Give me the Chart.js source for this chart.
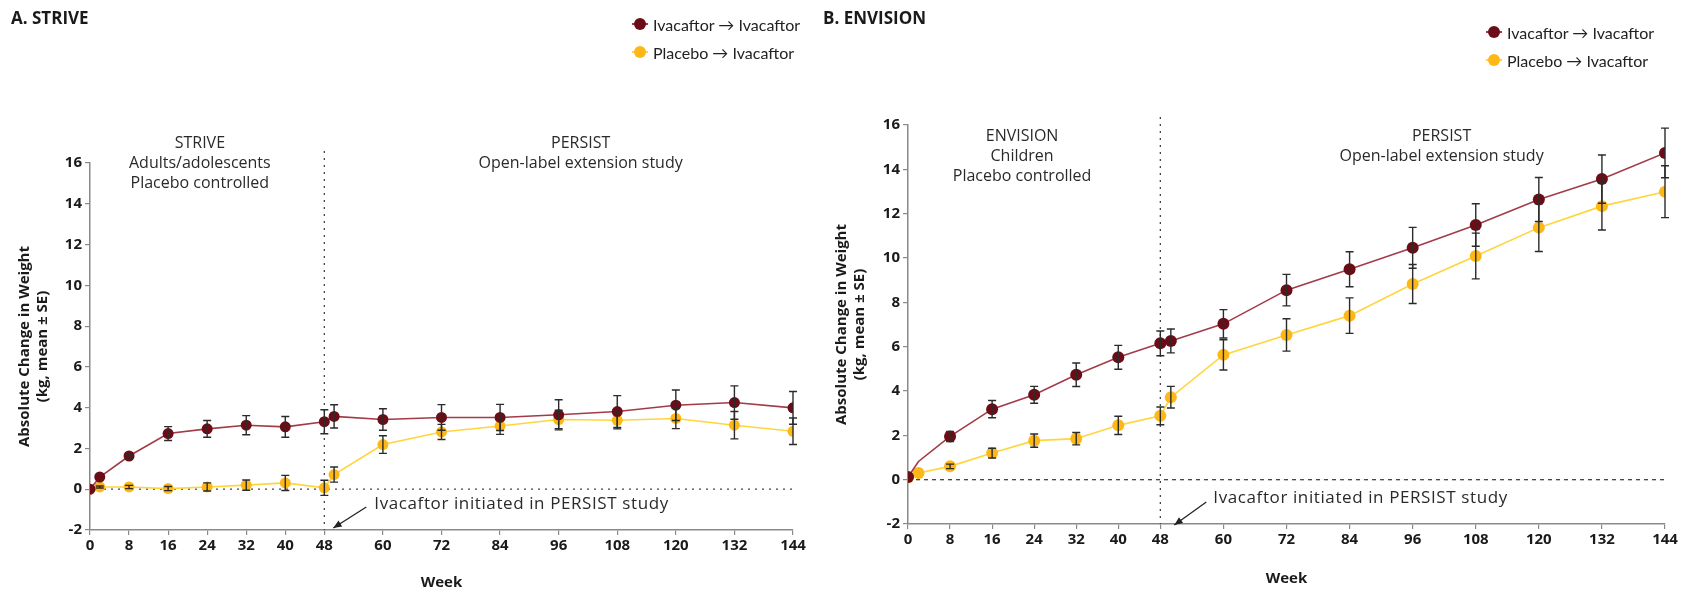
<!DOCTYPE html>
<html lang="en">
<head>
<meta charset="UTF-8">
<title>Absolute Change in Weight - STRIVE / ENVISION / PERSIST</title>
<script src="https://cdn.jsdelivr.net/npm/chart.js"></script>
<style>
    body {
        margin: 0;
        width: 1691px;
        height: 593px;
        background: #fff;
        position: relative;
        overflow: hidden;
        font-family: "Open Sans", Lato, Arial, sans-serif;
    }
    .panel { position: absolute; top: 0; height: 593px; }
    #panelA { left: 0; width: 820px; }
    #panelB { left: 820px; width: 871px; }
    .tag { position: absolute; font-weight: bold; font-size: 17px; color: #1a1a1a; }
    .legend { position: absolute; font-size: 16px; color: #222; font-family: Lato, "Open Sans", Arial, sans-serif; }
    .legend .item { height: 28px; display: flex; align-items: center; white-space: nowrap; }
    .mark { position: relative; width: 16px; height: 14px; margin-right: 5px; }
    .mark .ln { position: absolute; left: 0; right: 0; top: 6px; height: 2px; }
    .mark .pt { position: absolute; left: 2px; top: 1px; width: 12px; height: 12px; border-radius: 50%; }
</style>
</head>
<body>
<div class="panel" id="panelA"><canvas id="chartA"></canvas></div>
<div class="panel" id="panelB"><canvas id="chartB"></canvas></div>

<div class="tag" style="left:11px; top:6px;">A. STRIVE</div>
<div class="tag" style="left:823px; top:6px;">B. ENVISION</div>

<div class="legend" style="left:632px; top:10px;">
    <div class="item"><span class="mark"><span class="ln" style="background:#a23b47"></span><span class="pt" style="background:#6a0d16"></span></span>Ivacaftor &rarr; Ivacaftor</div>
    <div class="item"><span class="mark"><span class="ln" style="background:#ffd53d"></span><span class="pt" style="background:#fdb817"></span></span>Placebo &rarr; Ivacaftor</div>
</div>
<div class="legend" style="left:1486px; top:18px;">
    <div class="item"><span class="mark"><span class="ln" style="background:#a23b47"></span><span class="pt" style="background:#6a0d16"></span></span>Ivacaftor &rarr; Ivacaftor</div>
    <div class="item"><span class="mark"><span class="ln" style="background:#ffd53d"></span><span class="pt" style="background:#fdb817"></span></span>Placebo &rarr; Ivacaftor</div>
</div>

<script>
// ---- data ----
const xTicks = [0, 8, 16, 24, 32, 40, 48, 60, 72, 84, 96, 108, 120, 132, 144];
const weeks = [0, 2, 8, 16, 24, 32, 40, 48, 50, 60, 72, 84, 96, 108, 120, 132, 144];

// A. STRIVE -> PERSIST
const striveIva   = [0, 0.6, 1.63, 2.73, 2.96, 3.14, 3.06, 3.31, 3.57, 3.42, 3.52, 3.52, 3.65, 3.81, 4.12, 4.25, 3.99];
const striveIvaSE = [0, 0, 0.1, 0.34, 0.41, 0.47, 0.51, 0.59, 0.57, 0.53, 0.63, 0.64, 0.74, 0.78, 0.75, 0.82, 0.8];
const strivePla   = [0, 0.11, 0.11, 0.03, 0.11, 0.2, 0.31, 0.07, 0.72, 2.19, 2.81, 3.1, 3.42, 3.38, 3.47, 3.14, 2.84];
const strivePlaSE = [0, 0.05, 0.08, 0.1, 0.2, 0.25, 0.37, 0.37, 0.37, 0.43, 0.37, 0.41, 0.45, 0.42, 0.5, 0.67, 0.65];

// B. ENVISION -> PERSIST
const envIva   = [0.12, 0.82, 1.95, 3.18, 3.83, 4.73, 5.52, 6.15, 6.26, 7.03, 8.55, 9.49, 10.46, 11.49, 12.64, 13.56, 14.74];
const envIvaSE = [0, 0, 0.23, 0.39, 0.38, 0.53, 0.54, 0.56, 0.54, 0.64, 0.71, 0.79, 0.92, 0.96, 0.99, 1.09, 1.12];
const envPla   = [0.1, 0.3, 0.6, 1.2, 1.76, 1.85, 2.45, 2.88, 3.72, 5.63, 6.53, 7.4, 8.83, 10.09, 11.37, 12.34, 12.99];
const envPlaSE = [0, 0, 0.1, 0.22, 0.3, 0.28, 0.41, 0.4, 0.49, 0.68, 0.73, 0.8, 0.88, 1.03, 1.08, 1.08, 1.17];

const yTitle = ['Absolute Change in Weight', '(kg, mean \u00b1 SE)'];
const noteText = 'Ivacaftor initiated in PERSIST study';

const textFont = '"Open Sans", Lato, Arial, sans-serif';

// error bars drawn from each dataset's se array
const errorBars = {
    id: 'errorBars',
    afterDatasetsDraw(chart) {
        const { ctx, scales: { x, y } } = chart;
        ctx.save();
        ctx.strokeStyle = '#2b2b2b';
        ctx.lineWidth = 1.4;
        chart.data.datasets.forEach(ds => {
            ds.data.forEach((p, j) => {
                const se = ds.se[j];
                if (!se) return;
                const px = x.getPixelForValue(p.x);
                const top = y.getPixelForValue(p.y + se);
                const bot = y.getPixelForValue(p.y - se);
                ctx.beginPath();
                ctx.moveTo(px, top); ctx.lineTo(px, bot);
                ctx.moveTo(px - 4, top); ctx.lineTo(px + 4, top);
                ctx.moveTo(px - 4, bot); ctx.lineTo(px + 4, bot);
                ctx.stroke();
            });
        });
        ctx.restore();
    }
};

// reference lines and study labels
const studyNotes = {
    id: 'studyNotes',
    beforeDatasetsDraw(chart, args, o) {
        const { ctx, chartArea: a, scales: { x, y } } = chart;
        const x48 = x.getPixelForValue(48);
        const y0 = y.getPixelForValue(0);
        ctx.save();
        ctx.strokeStyle = '#444';
        ctx.lineWidth = 1.3;
        ctx.setLineDash(o.hDash);
        ctx.beginPath(); ctx.moveTo(a.left, y0); ctx.lineTo(a.right, y0); ctx.stroke();
        ctx.setLineDash(o.vDash);
        ctx.beginPath(); ctx.moveTo(x48, a.top - o.vTop); ctx.lineTo(x48, a.bottom); ctx.stroke();
        ctx.restore();
    },
    afterDraw(chart, args, o) {
        const { ctx, chartArea: a, scales: { x } } = chart;
        const x48 = x.getPixelForValue(48);
        ctx.save();
        ctx.fillStyle = '#2a2a2a';
        ctx.font = '16px ' + textFont;
        ctx.textAlign = 'center';
        ctx.textBaseline = 'middle';
        o.left.forEach((t, i) => ctx.fillText(t, x.getPixelForValue(o.leftX), a.top + o.labelTop + i * 20));
        o.right.forEach((t, i) => ctx.fillText(t, x.getPixelForValue(o.rightX), a.top + o.labelTop + i * 20));
        ctx.textAlign = 'left';
        ctx.font = '17px ' + textFont;
        ctx.letterSpacing = '0.6px';
        ctx.fillText(noteText, x48 + o.noteDx, a.bottom - 26);
        ctx.letterSpacing = '0px';
        // arrow
        const sx = x48 + o.arrow[0], sy = a.bottom + o.arrow[1];
        const ex = x48 + o.arrow[2], ey = a.bottom + o.arrow[3];
        ctx.strokeStyle = '#222';
        ctx.lineWidth = 1.3;
        ctx.beginPath(); ctx.moveTo(sx, sy); ctx.lineTo(ex, ey); ctx.stroke();
        const ang = Math.atan2(ey - sy, ex - sx);
        ctx.beginPath();
        ctx.moveTo(ex, ey);
        ctx.lineTo(ex - 9 * Math.cos(ang - 0.4), ey - 9 * Math.sin(ang - 0.4));
        ctx.lineTo(ex - 9 * Math.cos(ang + 0.4), ey - 9 * Math.sin(ang + 0.4));
        ctx.closePath();
        ctx.fillStyle = '#222';
        ctx.fill();
        ctx.restore();
    }
};

function pts(vals) {
    return weeks.map((w, i) => ({ x: w, y: vals[i] }));
}

function makeChart(id, cfg) {
    const ctx = document.getElementById(id).getContext('2d');
    return new Chart(ctx, {
        type: 'line',
        data: {
            datasets: [{
                label: 'Ivacaftor \u2192 Ivacaftor',
                data: pts(cfg.iva),
                se: cfg.ivaSE,
                borderColor: '#a23b47',
                backgroundColor: '#6a0d16',
                pointBackgroundColor: '#6a0d16',
                borderWidth: 1.6,
                pointRadius: cfg.ivaRadius,
                pointBorderWidth: 0,
                tension: 0
            }, {
                label: 'Placebo \u2192 Ivacaftor',
                data: pts(cfg.pla),
                se: cfg.plaSE,
                borderColor: '#ffd53d',
                backgroundColor: '#fdb817',
                pointBackgroundColor: '#fdb817',
                borderWidth: 1.6,
                pointRadius: cfg.r,
                pointBorderWidth: 0,
                tension: 0
            }]
        },
        options: {
            responsive: false,
            animation: false,
            layout: { padding: cfg.padding },
            plugins: {
                legend: { display: false },
                tooltip: { enabled: false },
                studyNotes: cfg.notes
            },
            scales: {
                x: {
                    type: 'linear',
                    min: 0,
                    max: 144,
                    afterBuildTicks: s => { s.ticks = xTicks.map(v => ({ value: v })); },
                    afterFit: s => { s.height = cfg.xh; },
                    grid: { drawOnChartArea: false, tickLength: 5, color: '#8a8a8a', lineWidth: 1.2 },
                    border: { color: '#8a8a8a', width: 1.5 },
                    ticks: { color: '#1a1a1a', font: { size: 15, weight: 'bold', family: textFont }, padding: 2, maxRotation: 0, autoSkip: false },
                    title: { display: true, text: 'Week', color: '#1a1a1a', font: { size: 15, weight: 'bold', family: textFont }, padding: { top: 0, bottom: cfg.weekPad } }
                },
                y: {
                    min: -2,
                    max: 16,
                    afterFit: s => { s.width = cfg.yw; },
                    grid: { drawOnChartArea: false, tickLength: 5, color: '#8a8a8a', lineWidth: 1.2 },
                    border: { color: '#8a8a8a', width: 1.5 },
                    ticks: { stepSize: 2, color: '#1a1a1a', font: { size: 15, weight: 'bold', family: textFont }, padding: 3 },
                    title: { display: true, text: yTitle, color: '#1a1a1a', font: { size: 15, weight: 'bold', family: textFont, lineHeight: 1.2 }, padding: { top: cfg.yTitlePad, bottom: 0 } }
                }
            }
        },
        plugins: [studyNotes, errorBars]
    });
}

const cA = document.getElementById('chartA');
cA.width = 820; cA.height = 593;
const cB = document.getElementById('chartB');
cB.width = 871; cB.height = 593;

makeChart('chartA', {
    iva: striveIva, ivaSE: striveIvaSE, pla: strivePla, plaSE: strivePlaSE,
    r: 5.5, ivaRadius: 5.5,
    padding: { top: 163, right: 27, left: 0, bottom: 0 },
    xh: 63, yw: 90, weekPad: 1, yTitlePad: 16,
    notes: {
        hDash: [2, 5], vDash: [2, 5], vTop: 12,
        left: ['STRIVE', 'Adults/adolescents', 'Placebo controlled'], leftX: 22.5,
        right: ['PERSIST', 'Open-label extension study'], rightX: 100.5,
        labelTop: -20, noteDx: 50, arrow: [42, -23, 9, -2]
    }
});

makeChart('chartB', {
    iva: envIva, ivaSE: envIvaSE, pla: envPla, plaSE: envPlaSE,
    r: 6, ivaRadius: envIva.map((v, i) => (i === 1 ? 0 : 6)),
    padding: { top: 125, right: 26, left: 0, bottom: 0 },
    xh: 69, yw: 88, weekPad: 5, yTitlePad: 13,
    notes: {
        hDash: [4, 4], vDash: [2, 5], vTop: 8,
        left: ['ENVISION', 'Children', 'Placebo controlled'], leftX: 21.7,
        right: ['PERSIST', 'Open-label extension study'], rightX: 101.5,
        labelTop: 11, noteDx: 53, arrow: [46, -22, 14, 1]
    }
});
</script>
</body>
</html>
